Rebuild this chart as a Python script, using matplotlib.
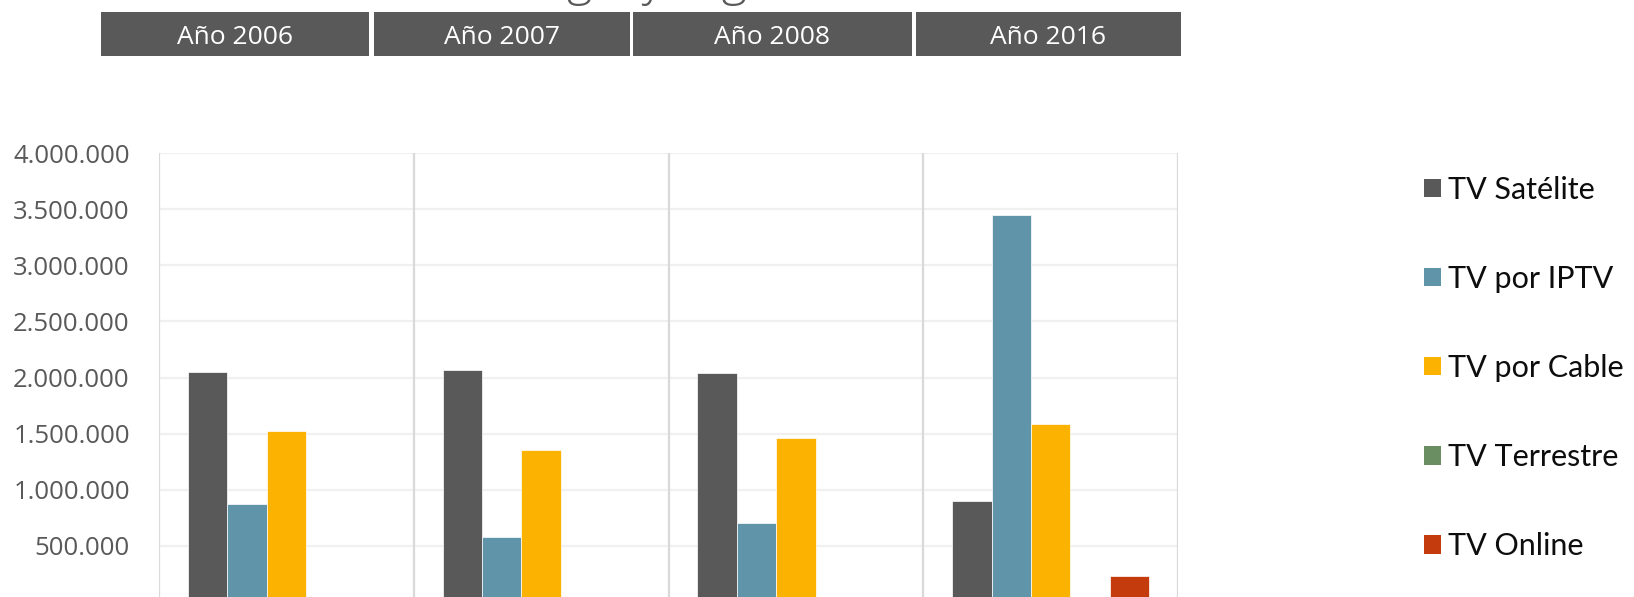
import numpy as np
import matplotlib.pyplot as plt
from matplotlib.patches import Rectangle

# Data
years = ["Año 2006", "Año 2007", "Año 2008", "Año 2016"]
series_names = ["TV Satélite", "TV por IPTV", "TV por Cable", "TV Terrestre", "TV Online"]
satelite = [2046000, 2067000, 2037000, 901000]
iptv = [874000, 574000, 705000, 3449000]
cable = [1522000, 1350000, 1463000, 1582000]
terrestre = [0, 0, 0, 0]
online = [0, 0, 0, 229000]
y_ticks = [500000, 1000000, 1500000, 2000000, 2500000, 3000000, 3500000, 4000000]

colors = ["#595959", "#5f94a9", "#fbb200", "#6a8e62", "#c43c0e"]

W, H = 1634, 597


def fx(px):
    return px / W


def fy(px):
    return 1 - px / H


def main():
    fig = plt.figure(figsize=(W / 100, H / 100), dpi=100)

    # Title, mostly cut off by the top edge of the picture (as in the original)
    fig.text(fx(398), fy(-5.5), "Tecnología y región", fontsize=35, color="#595959",
             family="Open Sans", fontweight="light", va="baseline", ha="left")

    # Header boxes with the years
    boxes = [(101, 369), (374, 630), (633, 912), (916, 1181)]
    for (x0, x1), label in zip(boxes, years):
        fig.patches.append(Rectangle((fx(x0), fy(56)), fx(x1 - x0), (56 - 12) / H,
                                     transform=fig.transFigure, facecolor="#595959",
                                     edgecolor="none"))
        fig.text(fx((x0 + x1) / 2), fy(37.5), label, color="white", fontsize=19,
                 family="Open Sans", ha="center", va="center")

    ax = fig.add_axes([fx(159), 0, fx(1178 - 159), 1 - 153.3 / H])

    data = [satelite, iptv, cable, terrestre, online]
    x = np.arange(len(years))
    bar_w = 0.1545
    for i, (vals, name, c) in enumerate(zip(data, series_names, colors)):
        ax.bar(x + (i - 2) * bar_w, vals, width=bar_w, color=c, label=name,
               edgecolor="white", linewidth=0.5, zorder=3)

    ax.set_xlim(-0.5, len(years) - 0.5)
    ax.set_ylim(42000, 4000000)

    # Gridlines
    for v in y_ticks:
        ax.axhline(v, color="#f0f0f0", linewidth=1.6, zorder=1)
    for b in np.arange(len(years) + 1) - 0.5:
        ax.axvline(b, color="#d9d9d9", linewidth=1.6, zorder=2)

    ax.set_xticks([])
    ax.set_yticks(y_ticks)
    ax.set_yticklabels([f"{v:,}".replace(",", ".") for v in y_ticks],
                       fontsize=18.5, color="#595959", family="Open Sans")
    ax.tick_params(axis="y", length=0, pad=21)
    for s in ax.spines.values():
        s.set_visible(False)

    leg = ax.legend(loc="center left", bbox_to_anchor=(fx(1424), fy(368)),
                    bbox_transform=fig.transFigure, frameon=False,
                    prop={"family": "Lato", "size": 22},
                    handlelength=0.55, handleheight=0.55, handletextpad=0.25,
                    labelspacing=2.0, borderpad=0, borderaxespad=0)
    for t in leg.get_texts():
        t.set_color("#0d0d0d")
    for h in leg.legend_handles:
        h.set_edgecolor("none")

    plt.savefig("out.png", dpi=100)


if __name__ == "__main__":
    main()
